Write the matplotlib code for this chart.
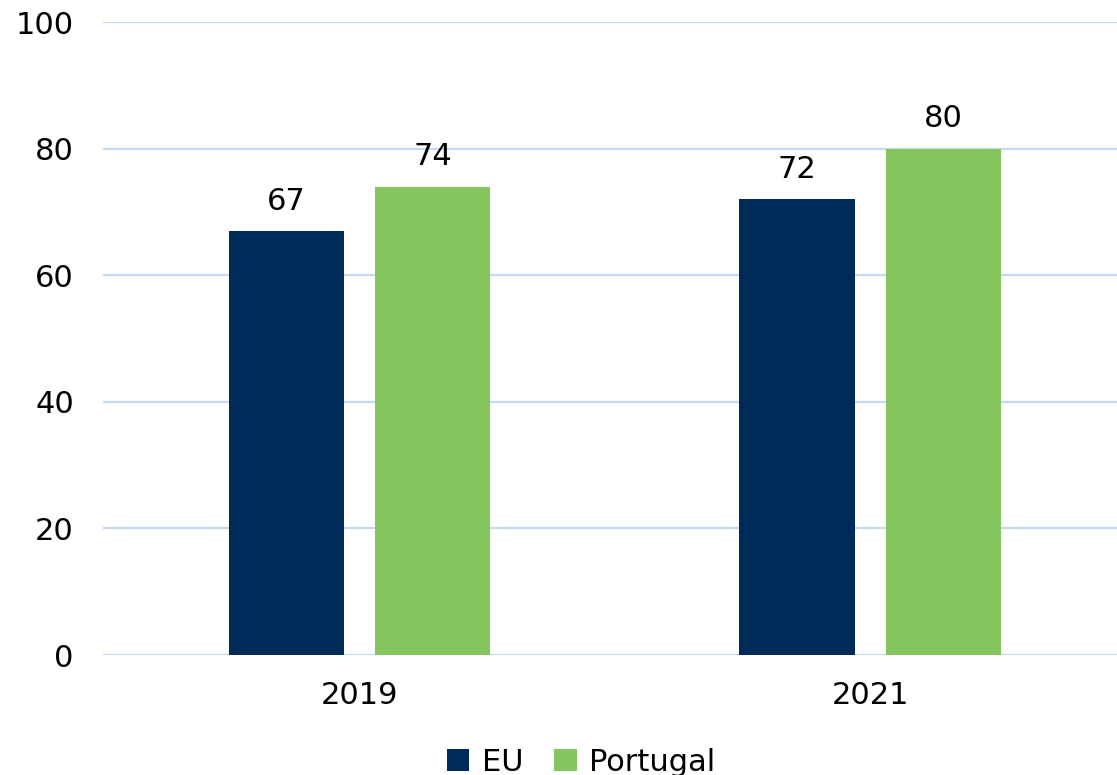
import numpy as np
import matplotlib.pyplot as plt

years = ['2019', '2021']
eu = [67, 72]
portugal = [74, 80]

plt.rcParams['font.family'] = ['DejaVu Sans']

fig = plt.figure(figsize=(11.17, 7.75), dpi=100)
ax = fig.add_axes([0.0922, 0.1548, 0.9078, 0.8168])

x = np.arange(len(years))
w = 0.2253
off = 0.143
b1 = ax.bar(x - off, eu, w, color='#002B59', label='EU', zorder=3)
b2 = ax.bar(x + off, portugal, w, color='#84C65D', label='Portugal', zorder=3)

for bars in (b1, b2):
    ax.bar_label(bars, padding=11, fontsize=22)

ax.set_xlim(-0.5024, 1.4838)
ax.set_ylim(0, 100)
ax.set_yticks(range(0, 101, 20))
ax.set_xticks(x)
ax.set_xticklabels(years)
ax.grid(axis='y', color='#C3DAF2', linewidth=1.6, zorder=0)
ax.tick_params(axis='both', length=0, labelsize=22)
ax.tick_params(axis='y', pad=21)
ax.tick_params(axis='x', pad=19)
for s in ax.spines.values():
    s.set_visible(False)

fig.legend(loc='upper center', bbox_to_anchor=(0.52, 0.055), ncol=2, frameon=False,
           fontsize=22, handlelength=0.75, handleheight=0.75, handletextpad=0.4,
           columnspacing=1.0, borderpad=0)

fig.savefig('out.png', dpi=100)
